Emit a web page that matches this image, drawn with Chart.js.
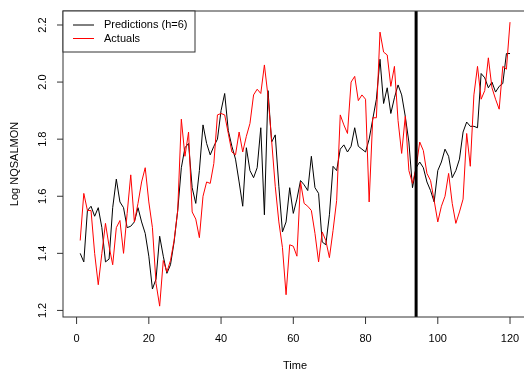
<!DOCTYPE html>
<html>
<head>
<meta charset="utf-8">
<script src="https://cdn.jsdelivr.net/npm/chart.js@4.4.1/dist/chart.umd.min.js"></script>
<style>
  html, body { margin: 0; padding: 0; background: #fff; }
  #wrap { width: 524px; height: 374px; }
</style>
</head>
<body>
<div id="wrap"><canvas id="grafico" width="524" height="374"></canvas></div>
<script>
// Valores (t = 1..120)
const predictions = [
  1.40, 1.37, 1.55, 1.565, 1.53, 1.56, 1.49, 1.37, 1.38, 1.56,
  1.66, 1.58, 1.56, 1.49, 1.495, 1.51, 1.56, 1.51, 1.47, 1.39,
  1.275, 1.31, 1.46, 1.39, 1.33, 1.36, 1.44, 1.55, 1.70, 1.77,
  1.785, 1.63, 1.575, 1.69, 1.85, 1.785, 1.745, 1.775, 1.80, 1.90,
  1.96, 1.83, 1.775, 1.73, 1.65, 1.565, 1.77, 1.69, 1.665, 1.70,
  1.84, 1.535, 1.97, 1.79, 1.815, 1.635, 1.475, 1.51, 1.63, 1.54,
  1.59, 1.655, 1.64, 1.62, 1.74, 1.63, 1.61, 1.44, 1.43, 1.535,
  1.705, 1.69, 1.765, 1.78, 1.755, 1.775, 1.84, 1.775, 1.765, 1.755,
  1.80, 1.87, 1.94, 2.08, 1.925, 1.98, 1.89, 1.945, 1.99, 1.955,
  1.88, 1.79, 1.63, 1.70, 1.72, 1.70, 1.65, 1.62, 1.58, 1.69,
  1.72, 1.765, 1.74, 1.665, 1.69, 1.73, 1.825, 1.86, 1.845, 1.845,
  1.84, 2.03, 2.015, 1.98, 2.00, 1.965, 1.985, 1.995, 2.10, 2.10
];
const actuals = [
  1.445, 1.61, 1.55, 1.55, 1.40, 1.29, 1.40, 1.505, 1.425, 1.36,
  1.49, 1.515, 1.40, 1.54, 1.675, 1.51, 1.575, 1.65, 1.70, 1.58,
  1.49, 1.295, 1.215, 1.375, 1.335, 1.375, 1.445, 1.55, 1.87, 1.74,
  1.825, 1.545, 1.52, 1.455, 1.60, 1.65, 1.645, 1.715, 1.885, 1.89,
  1.885, 1.82, 1.755, 1.745, 1.825, 1.755, 1.81, 1.855, 1.955, 1.975,
  1.96, 2.06, 1.95, 1.795, 1.635, 1.51, 1.42, 1.255, 1.43, 1.425,
  1.39, 1.65, 1.575, 1.565, 1.55, 1.47, 1.37, 1.475, 1.445, 1.385,
  1.48, 1.585, 1.885, 1.85, 1.82, 2.00, 2.02, 1.935, 1.955, 1.94,
  1.58, 1.875, 1.875, 2.175, 2.105, 2.095, 1.985, 2.055, 1.865, 1.75,
  1.88, 1.69, 1.645, 1.70, 1.79, 1.76, 1.68, 1.655, 1.585, 1.51,
  1.565, 1.60, 1.68, 1.575, 1.505, 1.545, 1.59, 1.82, 1.705, 1.955,
  2.055, 1.94, 1.97, 2.085, 1.98, 1.94, 1.905, 2.055, 2.045, 2.21
];
const time = actuals.map((_, i) => i + 1);
const xTicks = [0, 20, 40, 60, 80, 100, 120];
const yTicks = [1.2, 1.4, 1.6, 1.8, 2.0, 2.2];
const cutoff = 94;
const seriesNames = ["Predictions (h=6)", "Actuals"];
const seriesColors = ["#000000", "#FF0000"];

const fuente = "11px 'Liberation Sans', Arial, sans-serif";

// Ejes, caja, leyenda y linea vertical al estilo de R
const ejesR = {
  id: "ejesR",
  afterDatasetsDraw(chart) {
    const { ctx, chartArea: a, scales: { x, y } } = chart;
    ctx.save();

    // linea de corte
    const xc = x.getPixelForValue(cutoff);
    ctx.strokeStyle = "#000";
    ctx.lineWidth = 3;
    ctx.beginPath();
    ctx.moveTo(xc, a.top);
    ctx.lineTo(xc, a.bottom);
    ctx.stroke();

    // caja (el borde derecho queda fuera del lienzo)
    ctx.strokeStyle = "#333";
    ctx.lineWidth = 1;
    ctx.strokeRect(a.left, a.top, a.right - a.left + 10, a.bottom - a.top);

    ctx.fillStyle = "#000";
    ctx.font = fuente;

    // eje x
    ctx.textAlign = "center";
    ctx.textBaseline = "middle";
    xTicks.forEach(v => {
      const px = x.getPixelForValue(v);
      ctx.beginPath();
      ctx.moveTo(px, a.bottom);
      ctx.lineTo(px, a.bottom + 7);
      ctx.stroke();
      ctx.fillText(String(v), px, 339);
    });

    // eje y (etiquetas giradas)
    yTicks.forEach(v => {
      const py = y.getPixelForValue(v);
      ctx.beginPath();
      ctx.moveTo(a.left - 6, py);
      ctx.lineTo(a.left, py);
      ctx.stroke();
      ctx.save();
      ctx.translate(43, py);
      ctx.rotate(-Math.PI / 2);
      ctx.fillText(v.toFixed(1), 0, 0);
      ctx.restore();
    });

    // titulos
    ctx.fillText("Time", 295, 366);
    ctx.save();
    ctx.translate(15, (a.top + a.bottom) / 2);
    ctx.rotate(-Math.PI / 2);
    ctx.fillText("Log NQSALMON", 0, 0);
    ctx.restore();

    // leyenda
    ctx.fillStyle = "#fff";
    ctx.fillRect(a.left, a.top, 132, 41);
    ctx.strokeStyle = "#333";
    ctx.strokeRect(a.left, a.top, 132, 41);
    ctx.textAlign = "left";
    seriesNames.forEach((nombre, i) => {
      const ly = a.top + 14 + i * 13.5;
      ctx.strokeStyle = seriesColors[i];
      ctx.beginPath();
      ctx.moveTo(a.left + 10, ly);
      ctx.lineTo(a.left + 31, ly);
      ctx.stroke();
      ctx.fillStyle = "#000";
      ctx.fillText(nombre, a.left + 41, ly);
    });

    ctx.restore();
  }
};

const datos = [predictions, actuals];

new Chart(document.getElementById("grafico"), {
  type: "line",
  data: {
    datasets: seriesNames.map((nombre, i) => ({
      label: nombre,
      data: time.map((t, k) => ({ x: t, y: datos[i][k] })),
      borderColor: seriesColors[i],
      borderWidth: 1,
      pointRadius: 0,
      tension: 0,
      fill: false,
      order: i === 0 ? 2 : 1
    }))
  },
  options: {
    responsive: false,
    animation: false,
    devicePixelRatio: 1,
    layout: { padding: { left: 63, top: 11, right: 0, bottom: 57 } },
    scales: {
      x: { type: "linear", min: -3.76, max: 123.87, display: false },
      y: { type: "linear", min: 1.177, max: 2.249, display: false }
    },
    plugins: {
      legend: { display: false },
      tooltip: { enabled: false }
    }
  },
  plugins: [ejesR]
});
</script>
</body>
</html>
